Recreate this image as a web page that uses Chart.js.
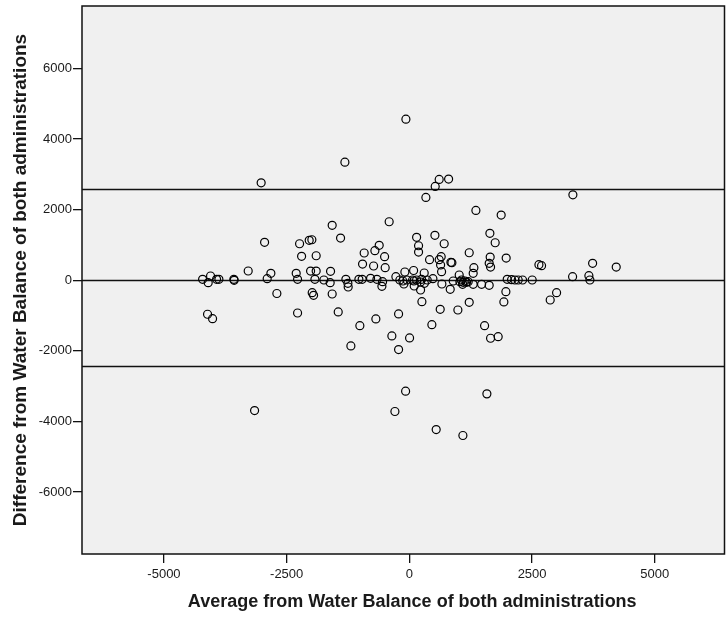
<!DOCTYPE html>
<html>
<head>
<meta charset="utf-8">
<script src="https://cdn.jsdelivr.net/npm/chart.js@4.4.1/dist/chart.umd.min.js"></script>
<style>
  body { margin: 0; background: #fff; }
  canvas { display: block; }
</style>
</head>
<body>
<canvas id="ba-chart" width="726" height="618"></canvas>
<script>
// average of both administrations (x) and their difference (y)
const avgValues = [
  -71, -1314, -3020, 607, 799, 526, 336, 3331, 1355, 1870,
  -412, -1573, -1402, 147, 520, 1640, -2950, -2237, -2041, -1987,
  187, 187, 709, 1748, -615, -703, -921, 1219, -505, -2196,
  -1899, 411, 607, 648, 1646, 1972, -954, -729, -493, 636,
  846, 866, 1626, 1654, 1314, 2639, 2693, 3733, 4214, -3284,
  -2822, -2306, -2013, -1899, -1606, -92, 86, 302, 656, 1300,
  1015, -275, 3325, 3657, 479,
  -4213, -4051, -4099, -3928, -3881, -3576, -3570, -2897, -2278, -1925,
  -1742, -1614, -1294, -1253, -1247, -1029, -962, -791, -662, -546,
  -560, -194, -133, -112, -51, 65, 92, 98, 147, 228,
  249, 306, 363, 662, 893, 1029, 1063, 1096, 1131, 1165,
  1084, 1198, 1300, 1471, 1626, 1993, 2082, 2150, 2217, 2306,
  2502, 3678,
  228, 832, -2700, -1980, -1952, -1573, 1966, 2999, 2869, 255,
  1219, 1925, 628, 988, -2278, -1450, -220, -4112, -4010, -683,
  -1009, 458, 1532, -357, 4, 1654, 1809, -1192, -220, -77,
  1579, -3154, -295, 546, 1090
];
const diffValues = [
  4566, 3347, 2763, 2859, 2867, 2661, 2349, 2423, 1981, 1848,
  1659, 1557, 1197, 1217, 1274, 1330, 1075, 1036, 1132, 1149,
  979, 801, 1036, 1064, 991, 838, 773, 781, 668, 679,
  696, 583, 583, 668, 659, 631, 461, 405, 357, 433,
  509, 498, 481, 376, 357, 442, 413, 481, 376, 263,
  198, 198, 262, 262, 255, 235, 277, 207, 243, 198,
  150, 102, 102, 130, 45,
  28, 122, -68, 28, 28, 28, 0, 45, 28, 28,
  8, -68, 28, -85, -190, 28, 28, 57, 28, -40,
  -170, 8, -20, -105, 8, 8, -20, -161, 8, -48,
  28, -85, 8, -105, -20, -40, 8, -57, -20, -57,
  -113, -40, -113, -113, -142, 28, 17, 8, 8, 8,
  8, 8,
  -275, -255, -374, -351, -425, -388, -322, -351, -558, -605,
  -623, -614, -821, -841, -926, -897, -954, -962, -1087, -1095,
  -1285, -1257, -1285, -1577, -1633, -1642, -1596, -1860, -1964, -3142,
  -3218, -3690, -3718, -4229, -4398
];
// reference lines: upper limit, zero, lower limit
const refLines = [2584, 0, -2434];
const xTicks = [-5000, -2500, 0, 2500, 5000];
const yTicks = [-6000, -4000, -2000, 0, 2000, 4000, 6000];
const xTitle = "Average from Water Balance of both administrations";
const yTitle = "Difference from Water Balance of both administrations";

const points = avgValues.map((x, i) => ({ x: x, y: diffValues[i] }));

const fontFamily = "'Liberation Sans', Arial, sans-serif";

const plotFrame = {
  id: "plotFrame",
  beforeDraw(chart) {
    const { ctx, chartArea: a } = chart;
    ctx.save();
    ctx.fillStyle = "#f0f0f0";
    ctx.fillRect(a.left, a.top, a.right - a.left, a.bottom - a.top);
    // reference lines go under the points
    const ys = chart.scales.y;
    ctx.strokeStyle = "#111";
    ctx.lineWidth = 1.3;
    refLines.forEach(function (v) {
      const py = Math.round(ys.getPixelForValue(v)) + 0.5;
      ctx.beginPath();
      ctx.moveTo(a.left, py);
      ctx.lineTo(a.right, py);
      ctx.stroke();
    });
    ctx.restore();
  },
  afterDraw(chart) {
    const { ctx, chartArea: a } = chart;
    ctx.save();
    ctx.strokeStyle = "#111";
    ctx.lineWidth = 1.5;
    ctx.strokeRect(a.left, a.top, a.right - a.left, a.bottom - a.top);
    // x title sits a little right of the plot centre, as in SPSS output
    ctx.fillStyle = "#1a1a1a";
    ctx.font = "bold 18px " + fontFamily;
    ctx.textAlign = "center";
    ctx.textBaseline = "alphabetic";
    ctx.fillText(xTitle, (a.left + a.right) / 2 + 9, 607);
    ctx.restore();
  },
};

new Chart(document.getElementById("ba-chart"), {
  type: "scatter",
  data: {
    datasets: [
      {
        data: points,
        pointStyle: "circle",
        pointRadius: 4,
        pointHoverRadius: 4,
        borderColor: "#000",
        borderWidth: 1.2,
        backgroundColor: "rgba(0,0,0,0)",
      },
    ],
  },
  options: {
    responsive: false,
    animation: false,
    layout: {
      autoPadding: false,
      padding: { top: 6, right: 1.5, left: 0, bottom: 0 },
    },
    plugins: {
      legend: { display: false },
      tooltip: { enabled: false },
    },
    scales: {
      x: {
        type: "linear",
        min: -6670,
        max: 6420,
        afterBuildTicks: function (scale) {
          scale.ticks = xTicks.map((v) => ({ value: v }));
        },
        afterFit: function (scale) {
          scale.height = 64;
          scale.paddingLeft = 0;
          scale.paddingRight = 0;
        },
        grid: {
          drawOnChartArea: false,
          drawTicks: true,
          tickLength: 9,
          color: "#111",
          lineWidth: 1.3,
        },
        border: { display: false },
        ticks: {
          padding: 4,
          color: "#1a1a1a",
          font: { family: fontFamily, size: 13 },
          maxRotation: 0,
          callback: (v) => String(v),
        },
        title: { display: false },
      },
      y: {
        type: "linear",
        min: -7755,
        max: 7772,
        afterBuildTicks: function (scale) {
          scale.ticks = yTicks.map((v) => ({ value: v }));
        },
        afterFit: function (scale) {
          scale.width = 82;
          scale.paddingTop = 0;
          scale.paddingBottom = 0;
        },
        grid: {
          drawOnChartArea: false,
          drawTicks: true,
          tickLength: 9,
          color: "#111",
          lineWidth: 1.3,
        },
        border: { display: false },
        ticks: {
          padding: 1,
          color: "#1a1a1a",
          font: { family: fontFamily, size: 13 },
          callback: (v) => String(v),
        },
        title: {
          display: true,
          text: yTitle,
          color: "#1a1a1a",
          font: { family: fontFamily, size: 19, weight: "bold" },
          padding: { top: 9, bottom: 0 },
        },
      },
    },
  },
  plugins: [plotFrame],
});
</script>
</body>
</html>
